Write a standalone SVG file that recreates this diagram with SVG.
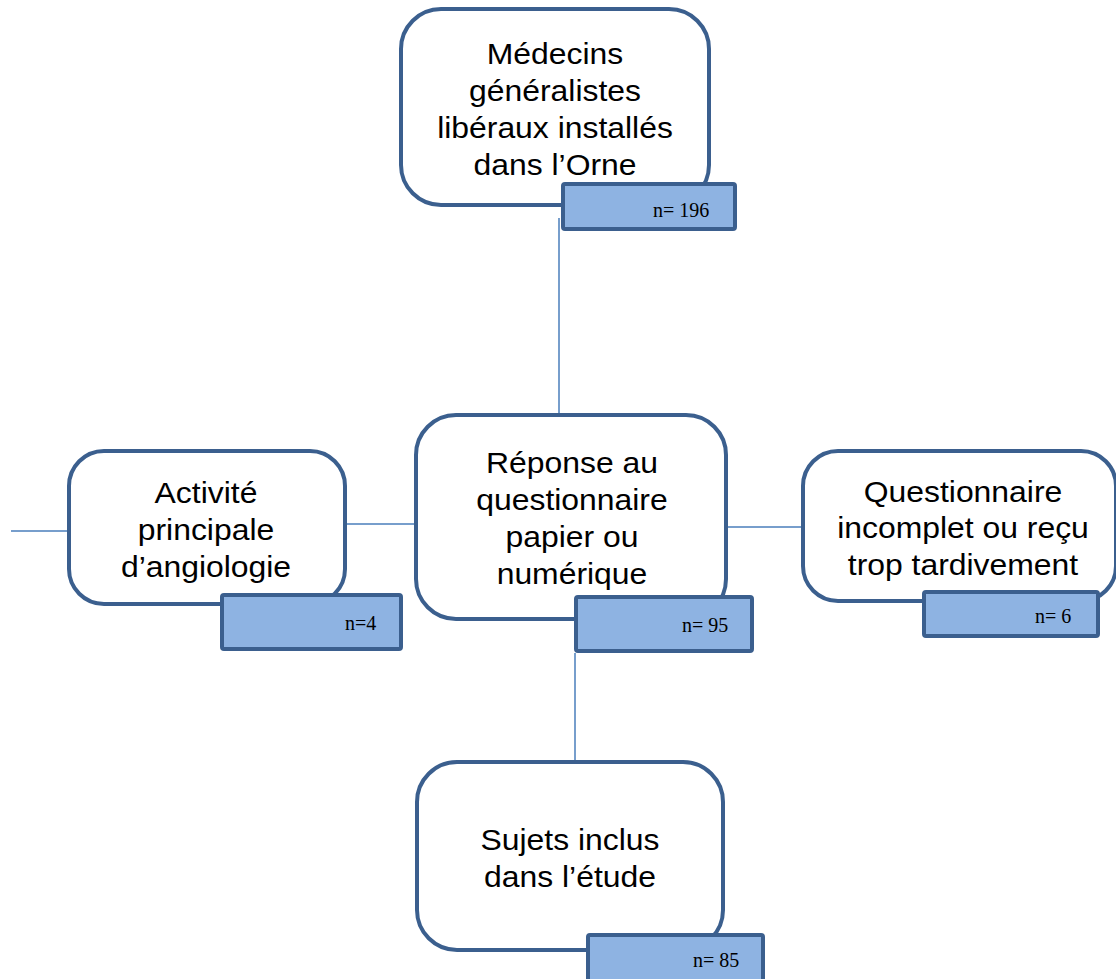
<svg xmlns="http://www.w3.org/2000/svg" width="1116" height="979" viewBox="0 0 1116 979">
<style>
.box{fill:#ffffff;stroke:#3b5f8e;stroke-width:4}
.lab{fill:#8eb3e2;stroke:#3b5f8e;stroke-width:4}
.t{font-family:"Liberation Sans",Arial,sans-serif;font-size:29px;fill:#000;text-anchor:middle}
.n{font-family:"Liberation Serif","Times New Roman",serif;font-size:20px;fill:#000}
.c{stroke:#4a7ebb;stroke-width:1.5;fill:none}
</style>
<rect width="1116" height="979" fill="#ffffff"/>
<g id="connectors">
<line class="c" x1="559" y1="218" x2="559" y2="414"/>
<line class="c" x1="575" y1="653" x2="575" y2="762"/>
<line class="c" x1="347" y1="524" x2="415" y2="524"/>
<line class="c" x1="11" y1="531" x2="68" y2="531"/>
<line class="c" x1="727" y1="527" x2="802" y2="527"/>
</g>
<g id="node-medecins">
<rect class="box" x="401" y="9" width="308" height="196" rx="40"/>
<g transform="translate(555,0) scale(1.1,1) translate(-555,0)">
<text class="t" x="555" y="64">Médecins</text>
<text class="t" x="555" y="101">généralistes</text>
<text class="t" x="555" y="138">libéraux installés</text>
<text class="t" x="555" y="175">dans l’Orne</text>
</g>
<rect class="lab" x="563" y="184" width="172" height="45" rx="2"/>
<text class="n" x="653" y="217">n= 196</text>
</g>
<g id="node-angiologie">
<rect class="box" x="69" y="451" width="276" height="153" rx="35"/>
<g transform="translate(206,0) scale(1.1,1) translate(-206,0)">
<text class="t" x="206" y="503">Activité</text>
<text class="t" x="206" y="540">principale</text>
<text class="t" x="206" y="577">d’angiologie</text>
</g>
<rect class="lab" x="222" y="595" width="179" height="54" rx="2"/>
<text class="n" x="345" y="630">n=4</text>
</g>
<g id="node-reponse">
<rect class="box" x="416" y="415" width="310" height="204" rx="40"/>
<g transform="translate(572,0) scale(1.1,1) translate(-572,0)">
<text class="t" x="572" y="473">Réponse au</text>
<text class="t" x="572" y="510">questionnaire</text>
<text class="t" x="572" y="547">papier ou</text>
<text class="t" x="572" y="584">numérique</text>
</g>
<rect class="lab" x="576" y="597" width="176" height="54" rx="2"/>
<text class="n" x="682" y="632">n= 95</text>
</g>
<g id="node-incomplet">
<rect class="box" x="803" y="451" width="313" height="150" rx="35"/>
<g transform="translate(963,0) scale(1.1,1) translate(-963,0)">
<text class="t" x="963" y="502">Questionnaire</text>
<text class="t" x="963" y="538">incomplet ou reçu</text>
<text class="t" x="963" y="575">trop tardivement</text>
</g>
<rect class="lab" x="924" y="592" width="174" height="44" rx="2"/>
<text class="n" x="1035" y="623">n= 6</text>
</g>
<g id="node-inclus">
<rect class="box" x="417" y="762" width="306" height="188" rx="40"/>
<g transform="translate(570,0) scale(1.1,1) translate(-570,0)">
<text class="t" x="570" y="850">Sujets inclus</text>
<text class="t" x="570" y="887">dans l’étude</text>
</g>
<rect class="lab" x="588" y="935" width="175" height="50" rx="2"/>
<text class="n" x="693" y="967">n= 85</text>
</g>
</svg>
